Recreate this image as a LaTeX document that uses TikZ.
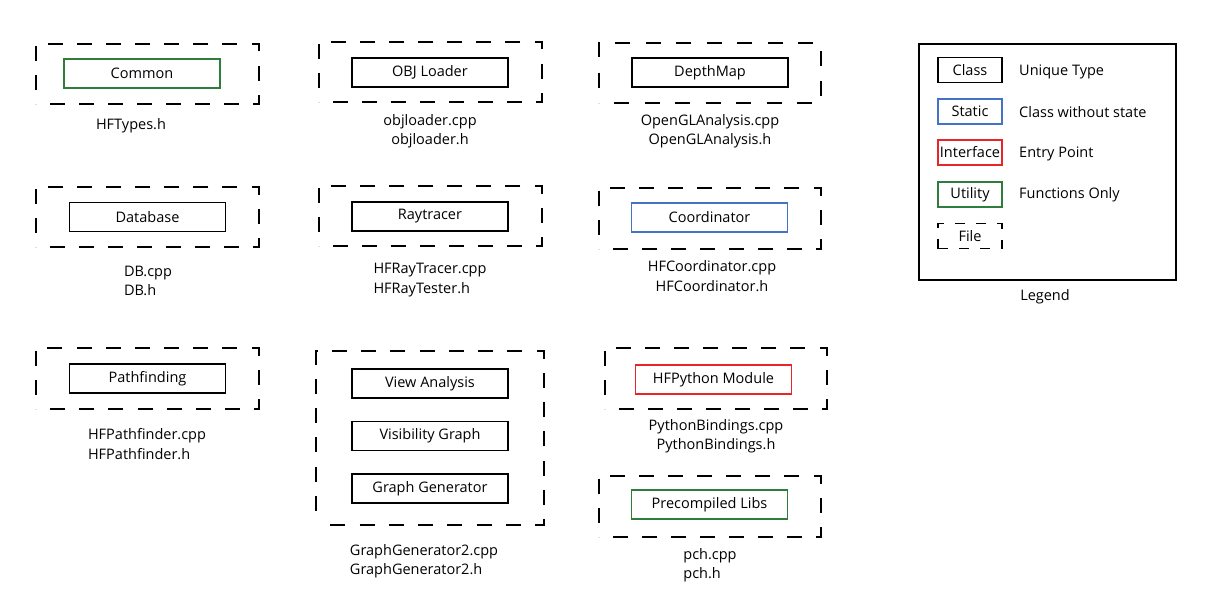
\documentclass[tikz,border=0pt]{standalone}
\usepackage{fontspec}
\setmainfont{Open Sans}
\usetikzlibrary{positioning,decorations}
\definecolor{utilgreen}{HTML}{2E7D3A}
\definecolor{staticblue}{HTML}{4472C4}
\definecolor{ifacered}{HTML}{E8262A}

\begin{document}
\begin{tikzpicture}[
  x=1pt,y=-1pt,
  font=\fontsize{14.5}{19.5}\selectfont,
  cls/.style={draw=black,line width=1.8pt,minimum width=156pt,
              minimum height=29pt,inner sep=0pt},
  stat/.style={cls,draw=staticblue},
  iface/.style={cls,draw=ifacered},
  util/.style={cls,draw=utilgreen},
  filebox/.style={draw=black,line width=1.8pt,inner sep=0pt,
                  dash pattern=on 15pt off 14pt,dash expand off},
  fname/.style={align=center,inner sep=0pt},
  fnamel/.style={align=left,inner sep=0pt},
  legbox/.style={minimum width=64pt,minimum height=25pt},
  legtxt/.style={anchor=west,inner sep=0pt}
]
\useasboundingbox (0,0) rectangle (1223,610);

% first row
\node[filebox,minimum width=223pt,minimum height=60pt] (commonf) at (147.5,74) {};
\node[util] (common) at (142,73.5) {Common};
\node[fname] (commonl) at (131,126) {HFTypes.h};

\node[filebox,minimum width=223pt,minimum height=60pt] (objf) at (430.5,72) {};
\node[cls] (obj) at (430,72.5) {OBJ Loader};
\node[fname] (objl) at (430,131) {objloader.cpp\\ objloader.h};

\node[filebox,minimum width=222pt,minimum height=60pt] (depthf) at (710,73) {};
\node[cls] (depth) at (710,72.5) {DepthMap};
\node[fname] (depthl) at (710,131) {OpenGLAnalysis.cpp\\ OpenGLAnalysis.h};

% second row
\node[filebox,minimum width=223pt,minimum height=60pt] (dbf) at (147.5,217) {};
\node[cls] (db) at (147.5,217) {Database};
\node[fnamel] (dbl) at (148,281) {DB.cpp\\ DB.h};

\node[filebox,minimum width=223pt,minimum height=60pt] (rayf) at (430.5,216) {};
\node[cls] (ray) at (430,216.5) {Raytracer};
\node[fnamel] (rayl) at (430,280) {HFRayTracer.cpp\\ HFRayTester.h};

\node[filebox,minimum width=222pt,minimum height=61pt] (coordf) at (710,218.5) {};
\node[stat] (coord) at (709.5,217.5) {Coordinator};
\node[fname] (coordl) at (712,276) {HFCoordinator.cpp\\ HFCoordinator.h};

% third row
\node[filebox,minimum width=223pt,minimum height=61pt] (pathf) at (147.5,378.5) {};
\node[cls] (path) at (147.5,378.5) {Pathfinding};
\node[fnamel] (pathl) at (147,444) {HFPathfinder.cpp\\ HFPathfinder.h};

\node[filebox,minimum width=228pt,minimum height=174pt] (graphf) at (430,438) {};
\node[cls] (view) at (430,383.5) {View Analysis};
\node[cls] (vis) at (430,436) {Visibility Graph};
\node[cls] (gen) at (430,488.5) {Graph Generator};
\node[fnamel] (graphl) at (424,561) {GraphGenerator2.cpp\\ GraphGenerator2.h};

\node[filebox,minimum width=222pt,minimum height=61pt] (pyf) at (716,378.5) {};
\node[iface] (py) at (713.5,379.5) {HFPython Module};
\node[fname] (pyl) at (716,436) {PythonBindings.cpp\\ PythonBindings.h};

\node[filebox,minimum width=222pt,minimum height=61pt] (pchf) at (710,506.5) {};
\node[util] (pch) at (709.5,504.5) {Precompiled Libs};
\node[fnamel] (pchl) at (710,565) {pch.cpp\\ pch.h};

% legend
\node[draw=black,line width=1.8pt,minimum width=257pt,minimum height=236pt] (legend) at (1047.5,162) {};
\node[fname] (legendl) at (1045,297) {Legend};
\node[cls,legbox] (lclass) at (970,70) {Class};
\node[stat,legbox] (lstat) at (970,111.5) {Static};
\node[iface,legbox] (liface) at (970,152.5) {Interface};
\node[util,legbox] (lutil) at (970,194.5) {Utility};
\node[filebox,legbox,dash pattern=on 10pt off 11pt] (lfile) at (970,236) {File};
\node[legtxt] (tclass) at (1019,72) {Unique Type};
\node[legtxt] (tstat) at (1019,112) {Class without state};
\node[legtxt] (tiface) at (1019,154) {Entry Point};
\node[legtxt] (tutil) at (1019,195) {Functions Only};
\end{tikzpicture}
\end{document}
